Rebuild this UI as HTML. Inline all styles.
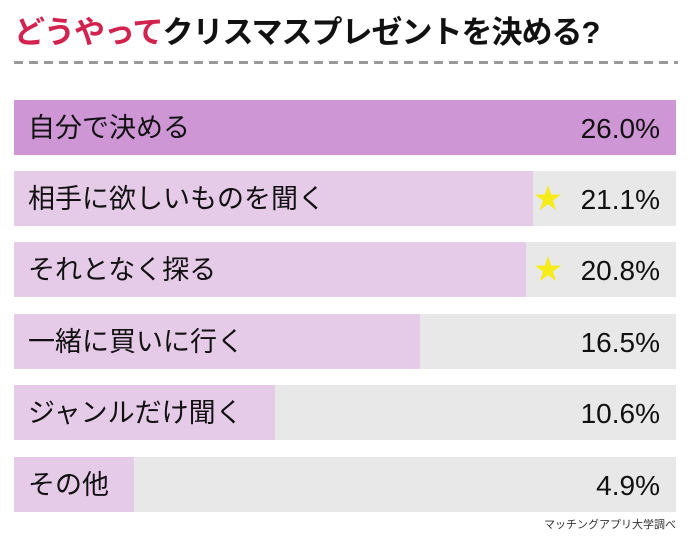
<!DOCTYPE html>
<html><head><meta charset="utf-8"><style>
body{margin:0;width:690px;height:542px;background:#fff;position:relative;overflow:hidden;font-family:"Liberation Sans","Noto Sans CJK JP",sans-serif;}
.t{position:absolute;left:14px;top:7px;font-size:31px;font-weight:bold;letter-spacing:-1px;color:#111;white-space:nowrap}
.t span{color:#d2234e}
.dash{position:absolute;left:14px;top:61px;width:664px;height:3px;background:repeating-linear-gradient(90deg,#999 0 9px,transparent 9px 15px)}
.row{position:absolute;left:14px;width:662px;height:55px;background:#e8e8e8}
.f{position:absolute;left:0;top:0;height:100%;background:#e6cbe9}
.l{position:absolute;left:14px;top:1px;line-height:55px;font-size:27px;color:#111}
.v{position:absolute;right:16px;top:1px;line-height:55px;font-size:28px;color:#111}
.s{position:absolute;right:114px;top:12px;font-size:28px;color:#f5ec1a;line-height:32px}
.src{position:absolute;right:14px;top:516px;font-size:11px;color:#333}
</style></head><body>
<div class="t"><span>どうやって</span>クリスマスプレゼントを決める?</div>
<div class="dash"></div>
<div class="row" style="top:100px"><div class="f" style="width:662px;background:#cf96d6"></div><div class="l">自分で決める</div><div class="v">26.0%</div></div>
<div class="row" style="top:171px"><div class="f" style="width:519px"></div><div class="l">相手に欲しいものを聞く</div><div class="s">★</div><div class="v">21.1%</div></div>
<div class="row" style="top:242px"><div class="f" style="width:512px"></div><div class="l">それとなく探る</div><div class="s">★</div><div class="v">20.8%</div></div>
<div class="row" style="top:314px"><div class="f" style="width:406px"></div><div class="l">一緒に買いに行く</div><div class="v">16.5%</div></div>
<div class="row" style="top:385px"><div class="f" style="width:261px"></div><div class="l">ジャンルだけ聞く</div><div class="v">10.6%</div></div>
<div class="row" style="top:457px"><div class="f" style="width:120px"></div><div class="l">その他</div><div class="v">4.9%</div></div>
<div class="src">マッチングアプリ大学調べ</div>
</body></html>
